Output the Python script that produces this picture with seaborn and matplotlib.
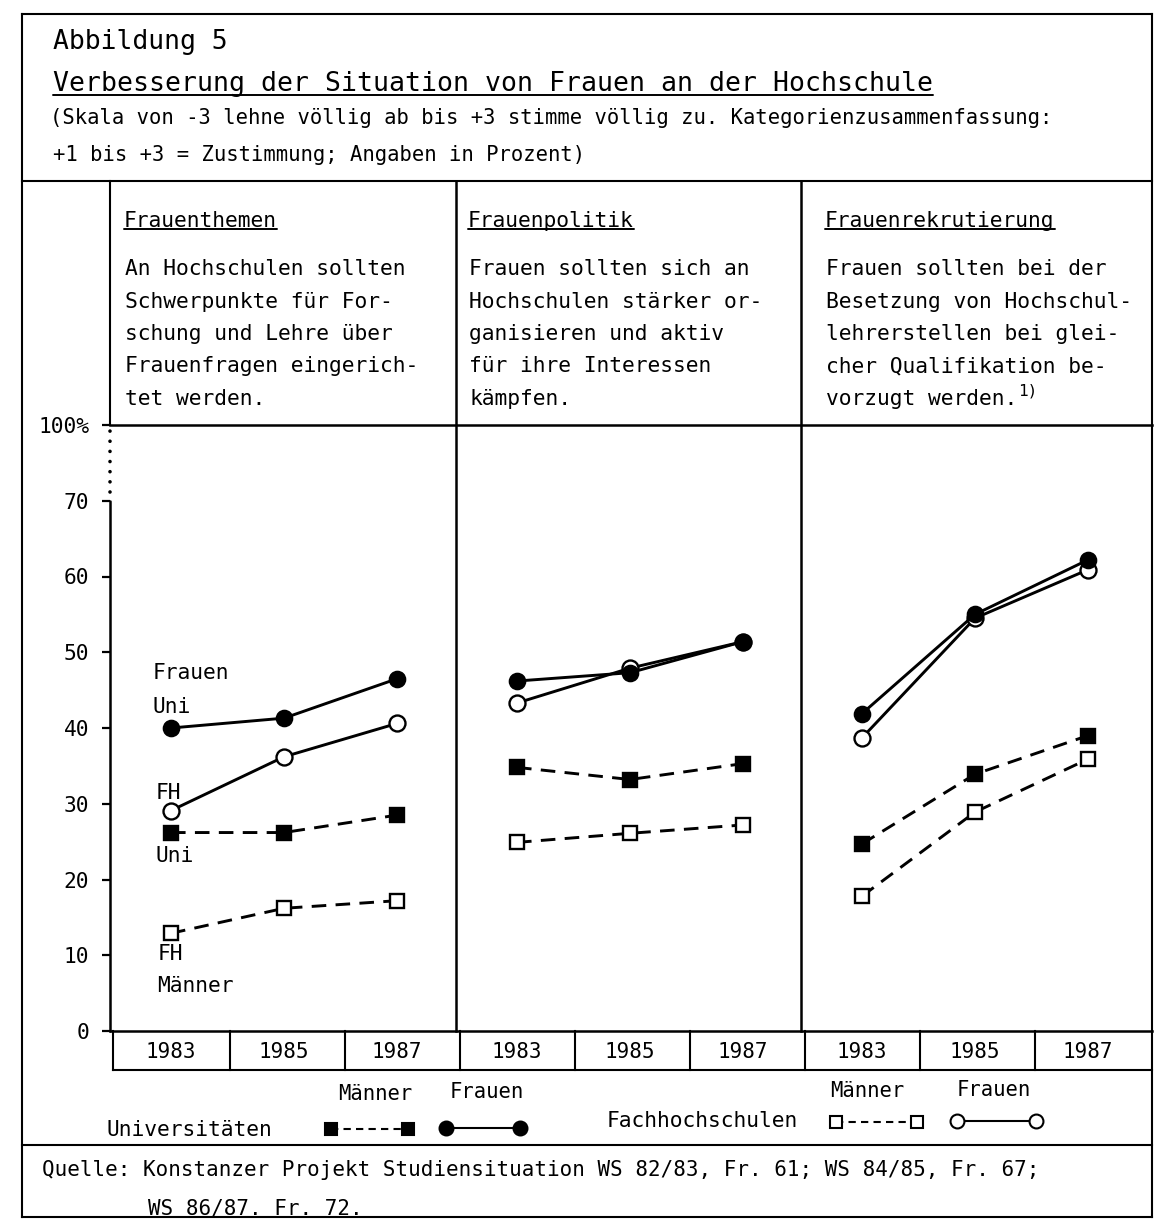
import numpy as np
import pandas as pd
import matplotlib
matplotlib.use("Agg")
import matplotlib.pyplot as plt
from matplotlib.lines import Line2D
import seaborn as sns

# ---------------- data ----------------
years = ["1983", "1985", "1987"]
panels = ["Frauenthemen", "Frauenpolitik", "Frauenrekrutierung"]
panel_texts = [
    ["An Hochschulen sollten", "Schwerpunkte für For-", "schung und Lehre über",
     "Frauenfragen eingerich-", "tet werden."],
    ["Frauen sollten sich an", "Hochschulen stärker or-", "ganisieren und aktiv",
     "für ihre Interessen", "kämpfen."],
    ["Frauen sollten bei der", "Besetzung von Hochschul-", "lehrerstellen bei glei-",
     "cher Qualifikation be-", "vorzugt werden."],
]
# values per panel (Frauenthemen, Frauenpolitik, Frauenrekrutierung) x years
uni_maenner = [[26.2, 26.2, 28.5], [34.8, 33.2, 35.3], [24.7, 33.9, 39.0]]
uni_frauen = [[40.0, 41.3, 46.5], [46.2, 47.3, 51.4], [41.9, 55.0, 62.2]]
fh_maenner = [[12.9, 16.2, 17.2], [24.9, 26.1, 27.2], [17.8, 28.9, 35.9]]
fh_frauen = [[29.1, 36.2, 40.6], [43.3, 47.9, 51.4], [38.7, 54.5, 60.9]]
series_names = ["FH Männer", "Uni Männer", "FH Frauen", "Uni Frauen"]
series_values = {"Uni Männer": uni_maenner, "Uni Frauen": uni_frauen,
                 "FH Männer": fh_maenner, "FH Frauen": fh_frauen}
ytick_values = [0, 10, 20, 30, 40, 50, 60, 70, 80]
ytick_labels = ["0", "10", "20", "30", "40", "50", "60", "70", "100%"]

rows = []
for s in series_names:
    for p_i, p in enumerate(panels):
        for y_i, yr in enumerate(years):
            rows.append({"series": s, "panel": p, "pos": y_i, "value": series_values[s][p_i][y_i]})
df = pd.DataFrame(rows)

# ---------------- style ----------------
sns.set_style("white")
plt.rcParams["font.family"] = ["DejaVu Sans Mono", "DejaVu Sans"]
plt.rcParams["text.color"] = "black"
plt.rcParams["xtick.color"] = "black"
plt.rcParams["ytick.color"] = "black"
plt.rcParams["xtick.labelcolor"] = "black"
plt.rcParams["ytick.labelcolor"] = "black"

DASH = (0, (5.0, 3.2))
styles = {
    "Uni Männer": dict(marker="s", markersize=9.5, markerfacecolor="black", linestyle=DASH),
    "Uni Frauen": dict(marker="o", markersize=11, markerfacecolor="black", linestyle="-"),
    "FH Männer": dict(marker="s", markersize=9.5, markerfacecolor="white", linestyle=DASH),
    "FH Frauen": dict(marker="o", markersize=11.5, markerfacecolor="white", linestyle="-"),
}

W, H = 1163, 1219
fig = plt.figure(figsize=(W / 100, H / 100), dpi=100)
fig.patch.set_facecolor("white")


def fx(x):
    return x / W


def fy(y):
    return 1 - y / H


def hline(x0, x1, y, lw=1.5):
    fig.add_artist(Line2D([fx(x0), fx(x1)], [fy(y), fy(y)], color="black", lw=lw,
                          solid_capstyle="projecting"))


def vline(x, y0, y1, lw=1.5):
    fig.add_artist(Line2D([fx(x), fx(x)], [fy(y0), fy(y1)], color="black", lw=lw,
                          solid_capstyle="projecting"))


def ftext(x, y, s, size=15.3, **kw):
    return fig.text(fx(x), fy(y), s, fontsize=size, va="center", ha=kw.pop("ha", "left"),
                    color="black", **kw)


# ---------------- layout frame ----------------
TOP, BOTTOM, LEFT, RIGHT = 14, 1217, 22, 1152
HEAD_SEP = 181
Y_TOP, Y_ZERO = 425, 1031
YEAR_BOTTOM = 1070
FOOT_SEP = 1145
panel_edges = [(110, 456), (456, 801), (801, 1152)]
STEP, OFFSET = 113, 61
YMAX = 80

hline(LEFT, RIGHT, TOP)
hline(LEFT, RIGHT, BOTTOM)
vline(LEFT, TOP, BOTTOM)
vline(RIGHT, TOP, BOTTOM)
hline(LEFT, RIGHT, HEAD_SEP)
hline(110, RIGHT, Y_TOP, lw=1.8)
vline(110, HEAD_SEP, Y_TOP)
vline(456, HEAD_SEP, Y_ZERO, lw=1.8)
vline(801, HEAD_SEP, Y_ZERO, lw=1.8)
hline(110, RIGHT, Y_ZERO, lw=1.8)
hline(113, RIGHT, YEAR_BOTTOM)
for xs in [113, 230, 345, 460, 575, 690, 805, 920, 1035]:
    vline(xs, Y_ZERO, YEAR_BOTTOM)
hline(LEFT, RIGHT, FOOT_SEP)

# ---------------- header ----------------
ftext(53, 42, "Abbildung 5", size=19)
title = ftext(53, 84, "Verbesserung der Situation von Frauen an der Hochschule", size=19.1)
ftext(50, 118, "(Skala von -3 lehne völlig ab bis +3 stimme völlig zu. Kategorienzusammenfassung:", size=14.8)
ftext(53, 155, "+1 bis +3 = Zustimmung; Angaben in Prozent)", size=14.8)

underlined = [title]
panel_text_x = [124, 468, 825]
sup_anchor = None
for i, p in enumerate(panels):
    t = ftext(panel_text_x[i], 221, p, size=15.3)
    underlined.append(t)
    for j, line in enumerate(panel_texts[i]):
        tt = ftext(panel_text_x[i] + 1, 269 + 32.5 * j, line, size=15.3)
        if i == 2 and j == 4:
            sup_anchor = tt

# ---------------- panels ----------------
axes = []
for i, (l, r) in enumerate(panel_edges):
    ax = fig.add_axes([fx(l), fy(Y_ZERO), (r - l) / W, (Y_ZERO - Y_TOP) / H])
    ax.patch.set_visible(False)
    sub = df[df["panel"] == panels[i]]
    for s in series_names:
        d = sub[sub["series"] == s]
        sns.lineplot(data=d, x="pos", y="value", ax=ax, color="black", linewidth=2.1,
                     markeredgecolor="black", markeredgewidth=1.7, errorbar=None,
                     clip_on=False, **styles[s])
    x0 = -OFFSET / STEP
    ax.set_xlim(x0, x0 + (r - l) / STEP)
    ax.set_ylim(0, YMAX)
    for sp in ax.spines.values():
        sp.set_visible(False)
    ax.set_xlabel("")
    ax.set_ylabel("")
    ax.set_xticks(range(len(years)), years)
    ax.tick_params(axis="x", length=0, pad=8, labelsize=15, labelcolor="black")
    if i == 0:
        ax.set_yticks(ytick_values, ytick_labels)
        ax.tick_params(axis="y", length=6, width=1.6, direction="out", pad=9, labelsize=15.3,
                       left=True, color="black", labelcolor="black")
        ax.axvline(x0, ymin=0, ymax=70 / YMAX, color="black", lw=1.8, clip_on=False)
        ax.axvline(x0, ymin=71.2 / YMAX, ymax=79.3 / YMAX, color="black", lw=2.6,
                   ls=(0, (0.01, 2.8)), dash_capstyle="round", clip_on=False)
    else:
        ax.set_yticks([])
    axes.append(ax)

# inline labels in first panel
ax0 = axes[0]
for (xd, yd, s) in [(-0.16, 47.2, "Frauen"), (-0.16, 42.8, "Uni"), (-0.14, 31.4, "FH"),
                    (-0.14, 23.1, "Uni"), (-0.12, 10.2, "FH"), (-0.12, 5.9, "Männer")]:
    ax0.text(xd, yd, s, fontsize=15.3, ha="left", va="center", color="black")

# ---------------- legend ----------------
ftext(338, 1094, "Männer", size=14.8)
ftext(450, 1092, "Frauen", size=14.8)
ftext(107, 1130, "Universitäten", size=15.3)
ftext(830, 1091, "Männer", size=14.8)
ftext(957, 1090, "Frauen", size=14.8)
ftext(607, 1121, "Fachhochschulen", size=15.3)

legend_keys = [
    ((331, 408), 1129, "Uni Männer", 8.5),
    ((446, 520), 1128, "Uni Frauen", 10.0),
    ((836, 917), 1122, "FH Männer", 8.5),
    ((957, 1036), 1121, "FH Frauen", 10.0),
]
for (xa, xb), yk, s, ms in legend_keys:
    st = styles[s]
    ls = (0, (3.5, 2.5)) if st["linestyle"] != "-" else "-"
    fig.add_artist(Line2D([fx(xa), fx(xb)], [fy(yk), fy(yk)], color="black", lw=1.5,
                          linestyle=ls, marker=st["marker"], markersize=ms,
                          markerfacecolor=st["markerfacecolor"], markeredgecolor="black",
                          markeredgewidth=1.5))

# ---------------- source ----------------
ftext(42, 1170, "Quelle: Konstanzer Projekt Studiensituation WS 82/83, Fr. 61; WS 84/85, Fr. 67;", size=15.0)
ftext(148, 1208, "WS 86/87. Fr. 72.", size=15.0)

# ---------------- underlines & superscript ----------------
fig.canvas.draw()
renderer = fig.canvas.get_renderer()
for t in underlined:
    bb = t.get_window_extent(renderer)
    y = (bb.y0 + 2) / H
    fig.add_artist(Line2D([bb.x0 / W, bb.x1 / W], [y, y], color="black", lw=1.4))
if sup_anchor is not None:
    bb = sup_anchor.get_window_extent(renderer)
    fig.text((bb.x1 + 1) / W, (bb.y1 - 2) / H, "1)", fontsize=11.5, ha="left", va="center",
             color="black")

fig.savefig("out.png", dpi=100, facecolor="white")
